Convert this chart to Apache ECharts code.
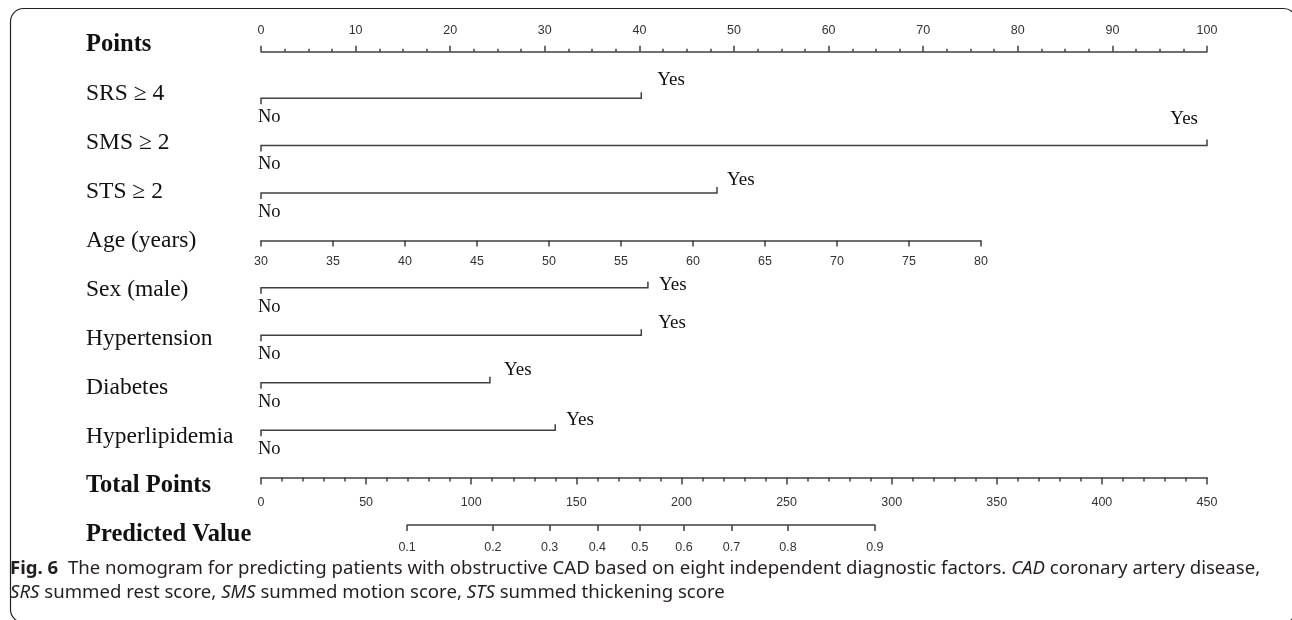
<!DOCTYPE html>
<html>
<head>
<meta charset="utf-8">
<title>Nomogram</title>
<script src="https://cdn.jsdelivr.net/npm/echarts@6/dist/echarts.min.js"></script>
<style>
  html, body { margin: 0; padding: 0; background: #fff; }
  #chart { width: 1292px; height: 620px; }
</style>
</head>
<body>
<div id="chart"></div>
<script>
// rows of the nomogram, top to bottom
const rowNames = ['Points', 'SRS ≥ 4', 'SMS ≥ 2', 'STS ≥ 2', 'Age (years)', 'Sex (male)',
  'Hypertension', 'Diabetes', 'Hyperlipidemia', 'Total Points', 'Predicted Value']
const boldRows = ['Points', 'Total Points', 'Predicted Value']

// binary factors: points given for "Yes" (No = 0)
const binaryNames = ['SRS ≥ 4', 'SMS ≥ 2', 'STS ≥ 2', 'Sex (male)', 'Hypertension', 'Diabetes', 'Hyperlipidemia']
const binaryYesPoints = [40.2, 100, 48.2, 40.9, 40.2, 24.2, 31.1]

// age scale: 30..80 years spans 0..76.1 points
const ageMin = 30
const ageMax = 80
const ageMaxPoints = 76.1

const pointsMax = 100
const totalMax = 450

// predicted value ticks and where they sit on the total points scale
const predValues = [0.1, 0.2, 0.3, 0.4, 0.5, 0.6, 0.7, 0.8, 0.9]
const predTotalPoints = [69.5, 110.3, 137.3, 160.0, 180.2, 201.2, 223.8, 250.7, 292.0]

// layout
const plotLeft = 261
const plotWidth = 946
const rowTop = 27
const rowH = 47.43
const rowY = i => rowTop + (i + 0.5) * rowH

const lineColor = '#404040'
const tickFont = 'Liberation Sans'
const serif = 'Liberation Serif'

// where the "Yes" text goes relative to the line end
const yesLayout = {
  'SRS ≥ 4': { dx: 16, dy: -18, align: 'left' },
  'SMS ≥ 2': { dx: -9, dy: -27, align: 'right' },
  'STS ≥ 2': { dx: 10, dy: -13, align: 'left' },
  'Sex (male)': { dx: 11, dy: -3, align: 'left' },
  'Hypertension': { dx: 17, dy: -12, align: 'left' },
  'Diabetes': { dx: 14, dy: -13, align: 'left' },
  'Hyperlipidemia': { dx: 11, dy: -10, align: 'left' }
}

function axisGrid(rowIdx, fromPts, toPts, scaleMax) {
  return {
    left: plotLeft + plotWidth * fromPts / scaleMax,
    width: plotWidth * (toPts - fromPts) / scaleMax,
    top: rowY(rowIdx) - 1,
    height: 1,
    outerBoundsMode: 'none'
  }
}

const axisLine = { show: true, lineStyle: { color: lineColor, width: 1.5 } }
const tickLabel = { fontFamily: tickFont, fontSize: 12.5, color: '#333' }

const chart = echarts.init(document.getElementById('chart'), null, { renderer: 'canvas' })

chart.setOption({
  animation: false,
  backgroundColor: '#fff',
  grid: [
    // 0: rows for the factor lines, points scale
    { left: plotLeft, width: plotWidth, top: rowTop, height: rowH * rowNames.length, outerBoundsMode: 'none' },
    // 1: Points axis
    { left: plotLeft, width: plotWidth, top: rowY(0), height: 1, outerBoundsMode: 'none' },
    // 2: Age axis
    axisGrid(4, 0, ageMaxPoints, pointsMax),
    // 3: Total points axis
    axisGrid(9, 0, totalMax, totalMax),
    // 4: Predicted value axis
    axisGrid(10, predTotalPoints[0], predTotalPoints[predTotalPoints.length - 1], totalMax),
    // 5: row labels
    { left: 86, width: 100, top: 20.5, height: 49 * rowNames.length, outerBoundsMode: 'none' }
  ],
  xAxis: [
    { gridIndex: 0, type: 'value', min: 0, max: pointsMax, show: false },
    {
      gridIndex: 1, type: 'value', position: 'top', min: 0, max: pointsMax, interval: 10,
      axisLine,
      axisTick: { show: true, length: 6, lineStyle: { color: lineColor, width: 1.5 } },
      minorTick: { show: true, splitNumber: 4, length: 3, lineStyle: { color: lineColor, width: 1.5 } },
      axisLabel: Object.assign({ margin: 14 }, tickLabel),
      splitLine: { show: false }
    },
    {
      gridIndex: 2, type: 'value', position: 'bottom', min: ageMin, max: ageMax, interval: 5,
      axisLine,
      axisTick: { show: true, length: 6, lineStyle: { color: lineColor, width: 1.5 } },
      axisLabel: Object.assign({ margin: 15 }, tickLabel),
      splitLine: { show: false }
    },
    {
      gridIndex: 3, type: 'value', position: 'bottom', min: 0, max: totalMax, interval: 50,
      axisLine,
      axisTick: { show: true, length: 7, lineStyle: { color: lineColor, width: 1.5 } },
      minorTick: { show: true, splitNumber: 5, length: 4, lineStyle: { color: lineColor, width: 1.5 } },
      axisLabel: Object.assign({ margin: 18 }, tickLabel),
      splitLine: { show: false }
    },
    {
      gridIndex: 4, type: 'value', position: 'bottom',
      min: predTotalPoints[0], max: predTotalPoints[predTotalPoints.length - 1],
      axisLine,
      axisTick: { show: true, length: 6, customValues: predTotalPoints, lineStyle: { color: lineColor, width: 1.5 } },
      axisLabel: Object.assign({
        margin: 16,
        customValues: predTotalPoints,
        formatter: function (v) {
          let best = 0
          predTotalPoints.forEach((p, i) => { if (Math.abs(p - v) < Math.abs(predTotalPoints[best] - v)) best = i })
          return String(predValues[best])
        }
      }, tickLabel),
      splitLine: { show: false }
    },
    { gridIndex: 5, type: 'value', show: false }
  ],
  yAxis: [
    { gridIndex: 0, type: 'category', data: rowNames, inverse: true, show: false },
    { gridIndex: 1, type: 'value', show: false },
    { gridIndex: 2, type: 'value', show: false },
    { gridIndex: 3, type: 'value', show: false },
    { gridIndex: 4, type: 'value', show: false },
    {
      gridIndex: 5, type: 'category', data: rowNames, inverse: true,
      axisLine: { show: false }, axisTick: { show: false }, splitLine: { show: false },
      axisLabel: {
        show: true, align: 'left', margin: 0, interval: 0,
        formatter: name => boldRows.indexOf(name) >= 0 ? '{b|' + name + '}' : '{n|' + name + '}',
        rich: {
          b: { fontFamily: serif, fontSize: 24.5, fontWeight: 'bold', color: '#111' },
          n: { fontFamily: serif, fontSize: 23.5, color: '#111' }
        }
      }
    }
  ],
  series: [{
    type: 'custom',
    xAxisIndex: 0,
    yAxisIndex: 0,
    silent: true,
    data: binaryNames.map((name, i) => ({ name, value: [binaryYesPoints[i], rowNames.indexOf(name)] })),
    renderItem: function (params, api) {
      const name = binaryNames[params.dataIndex]
      const start = api.coord([0, api.value(1)])
      const end = api.coord([api.value(0), api.value(1)])
      const lay = yesLayout[name]
      return {
        type: 'group',
        children: [
          {
            type: 'polyline',
            shape: { points: [[start[0], start[1] + 6], start, end, [end[0], end[1] - 6]] },
            style: { stroke: lineColor, lineWidth: 1.5, fill: null }
          },
          {
            type: 'text', x: start[0] - 3, y: start[1] + 19,
            style: { text: 'No', fontFamily: serif, fontSize: 18.5, fill: '#111', align: 'left', verticalAlign: 'middle' }
          },
          {
            type: 'text', x: end[0] + lay.dx, y: end[1] + lay.dy,
            style: { text: 'Yes', fontFamily: serif, fontSize: 19, fill: '#111', align: lay.align, verticalAlign: 'middle' }
          }
        ]
      }
    }
  }],
  graphic: [
    {
      type: 'rect', silent: true,
      shape: { x: 10.5, y: 8.5, width: 1286, height: 614, r: 13 },
      style: { fill: 'none', stroke: '#222', lineWidth: 1.2 }
    },
    {
      type: 'text', left: 10, top: 557, silent: true,
      style: {
        text: '{b|Fig. 6}  The nomogram for predicting patients with obstructive CAD based on eight independent diagnostic factors. {i|CAD} coronary artery disease,\n{i|SRS} summed rest score, {i|SMS} summed motion score, {i|STS} summed thickening score',
        fontFamily: 'Noto Sans', fontSize: 18.6, fill: '#231f20', lineHeight: 24,
        rich: {
          b: { fontFamily: 'Noto Sans', fontSize: 18.6, fontWeight: 'bold', fill: '#231f20', lineHeight: 24 },
          i: { fontFamily: 'Noto Sans', fontSize: 18.6, fontStyle: 'italic', fill: '#231f20', lineHeight: 24 }
        }
      }
    }
  ]
})
</script>
</body>
</html>
